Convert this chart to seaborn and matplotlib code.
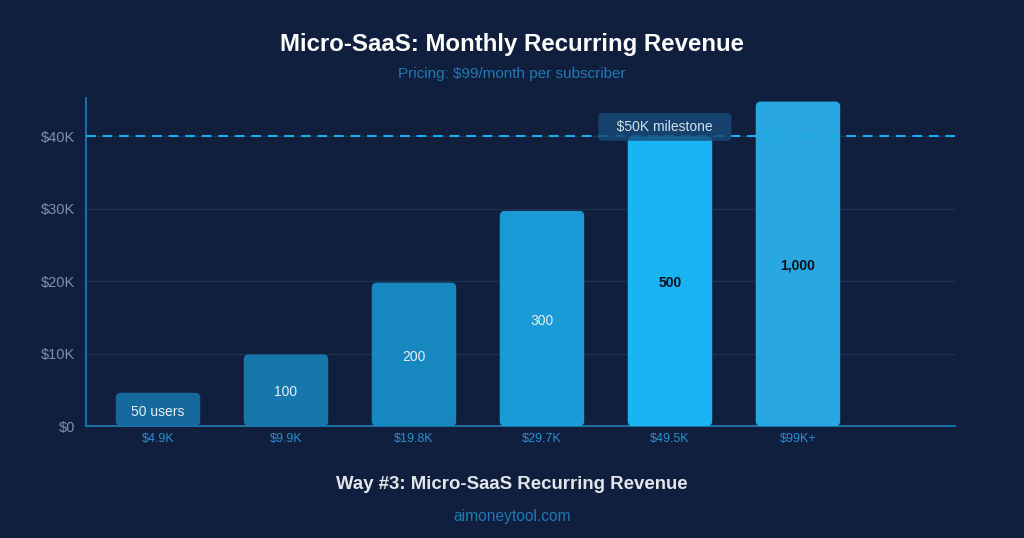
import matplotlib
matplotlib.use('Agg')
import matplotlib.pyplot as plt
import seaborn as sns
import pandas as pd
from matplotlib.patches import FancyBboxPatch

## data
users = ['50 users', '100', '200', '300', '500', '1,000']
revenue_k = [4.6, 9.9, 19.8, 29.7, 40.0, 44.8]
x_labels = ['$4.9K', '$9.9K', '$19.8K', '$29.7K', '$49.5K', '$99K+']
bar_colors = ['#16699c', '#1677aa', '#1787c0', '#1a9ad6', '#1ab3f4', '#29a7e0']
label_colors = ['#e8eef5', '#e8eef5', '#e8eef5', '#e8eef5', '#0a0f1a', '#0a0f1a']
milestone_k = 40.0

bg = '#0f1f3d'

sns.set_theme(style='dark')
plt.rcParams['font.family'] = ['Liberation Sans', 'DejaVu Sans']

df = pd.DataFrame({'tier': x_labels, 'revenue': revenue_k})

fig = plt.figure(figsize=(10.24, 5.38), dpi=100, facecolor=bg)
ax = fig.add_axes([0.084, 0.208, 0.849, 0.61])
ax.set_facecolor(bg)

sns.barplot(data=df, x='tier', y='revenue', hue='tier', palette=bar_colors,
            width=0.66, legend=False, ax=ax, saturation=1)

# swap the plain bars for rounded ones (~5px corner radius)
for p, c in zip(list(ax.patches), bar_colors):
    x0, y0 = p.get_x(), p.get_y()
    w, h = p.get_width(), p.get_height()
    p.remove()
    rb = FancyBboxPatch((x0, y0), w, h,
                        boxstyle='round,pad=0,rounding_size=0.04',
                        mutation_aspect=17.7,
                        fc=c, ec='none', zorder=3)
    ax.add_patch(rb)

ax.set_xlim(-0.5625, 6.23)
ax.set_ylim(0, 45.3)

# value labels in the middle of the bars
for i, (u, v) in enumerate(zip(users, revenue_k)):
    bold = i >= 4
    ax.text(i, v / 2 - 0.3, u, ha='center', va='center', fontsize=10,
            color=label_colors[i], fontweight='bold' if bold else 'normal', zorder=5)

# milestone line + tag
ax.axhline(milestone_k, color='#1ab3f4', lw=1.4, ls=(0, (5, 3.5)), zorder=4)
ax.text(3.96, 41.3, '   $50K milestone   ', ha='center', va='center',
        fontsize=10, color='#d6e2ee', zorder=6,
        bbox=dict(boxstyle='round,pad=0.5,rounding_size=0.3', fc='#174a78',
                  ec='none', alpha=0.8))

ax.set_yticks([0, 10, 20, 30, 40])
ax.set_yticklabels(['$0', '$10K', '$20K', '$30K', '$40K'])
ax.tick_params(axis='y', colors='#8290a4', labelsize=10.5, length=0, pad=8)
ax.tick_params(axis='x', colors='#2a8fd0', labelsize=9, length=0, pad=5)
for t in ax.get_xticklabels():
    t.set_color('#2a8fd0')
ax.set_xlabel('')
ax.set_ylabel('')

ax.grid(axis='y', color='#1a3354', lw=1, zorder=0)
ax.grid(axis='x', visible=False)
for s in ['top', 'right']:
    ax.spines[s].set_visible(False)
for s in ['left', 'bottom']:
    ax.spines[s].set_visible(True)
    ax.spines[s].set_color('#1f78b0')
    ax.spines[s].set_linewidth(1.3)

fig.text(0.5, 0.918, 'Micro-SaaS: Monthly Recurring Revenue', ha='center', va='center',
         fontsize=17.3, fontweight='bold', color='white')
fig.text(0.5, 0.863, 'Pricing: $99/month per subscriber', ha='center', va='center',
         fontsize=11, color='#1f7ab5')
fig.text(0.5, 0.099, 'Way #3: Micro-SaaS Recurring Revenue', ha='center', va='center',
         fontsize=13.4, fontweight='bold', color='#e3e6ea')
fig.text(0.5, 0.04, 'aimoneytool.com', ha='center', va='center',
         fontsize=11.2, color='#1f7ab5')

fig.savefig('out.png', dpi=100, facecolor=bg)
